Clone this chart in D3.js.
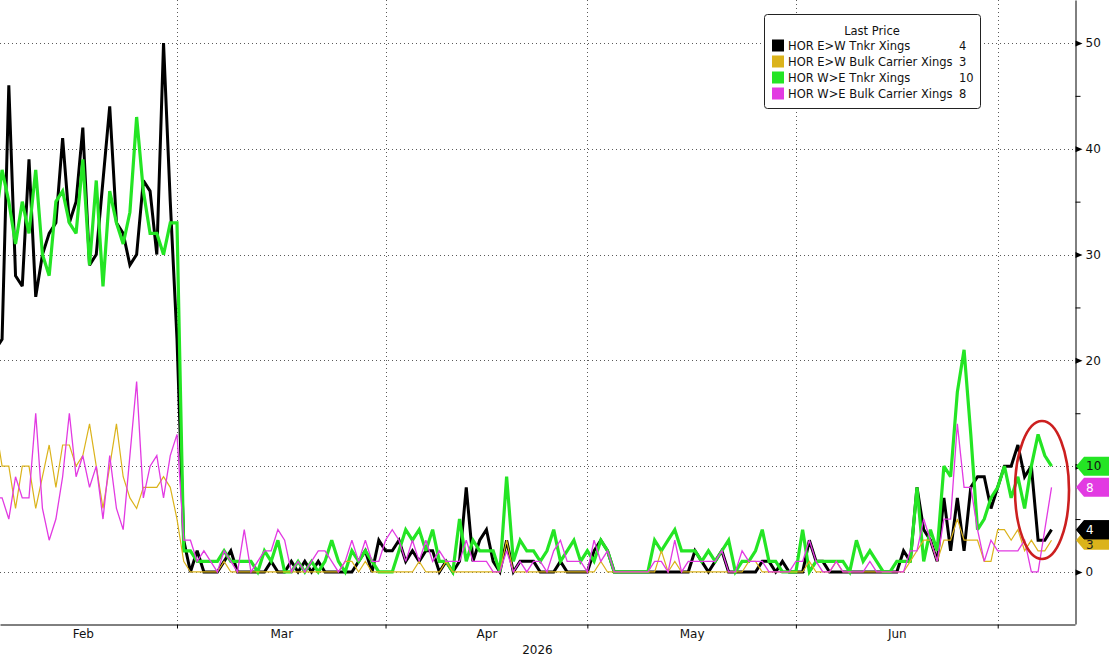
<!DOCTYPE html>
<html>
<head>
<meta charset="utf-8">
<script src="https://cdn.jsdelivr.net/npm/d3@7"></script>
<style>
body { margin: 0; background: #fff; }
svg { display: block; font-family: "DejaVu Sans", sans-serif; }
.grid line { stroke: #5a5a5a; stroke-dasharray: 1,3; shape-rendering: crispEdges; }
</style>
</head>
<body>
<svg width="1109" height="657"></svg>
<script>
// daily crossings, Feb 2 .. Jul 9 2026
var firstDay = "2026-02-02", lastDay = "2026-07-09";

var tnkrEW = [21,
  22,46,28,27,39,26,30,32,33,41,33,35,42,29,30,37,44,33,32,29,30,37,36,30,50,35,
  22,3,0,2,0,0,0,1,2,0,0,0,0,0,1,0,0,1,0,1,0,1,0,0,0,0,0,1,2,0,3,
  2,2,3,1,2,1,2,2,0,1,0,1,8,1,3,4,1,0,3,0,1,1,1,0,0,0,1,0,0,0,
  0,2,3,2,0,0,0,0,0,0,0,0,0,0,0,0,2,1,0,1,2,0,0,0,0,0,1,1,0,1,0,
  0,0,3,1,1,0,0,0,0,0,0,0,0,0,0,0,2,1,8,4,3,1,7,2,7,2,8,9,9,6,
  8,10,10,12,9,10,3,3,4];

var bulkEW = [14,
  10,10,6,10,10,6,9,12,8,12,12,10,11,14,10,6,10,14,9,7,6,8,8,8,9,8,
  5,1,0,0,0,0,0,1,0,0,0,0,0,0,0,0,0,0,0,0,0,0,0,0,0,1,1,0,1,0,0,
  0,0,0,0,0,1,0,0,0,1,0,0,0,0,0,0,0,0,3,0,0,0,0,0,0,0,0,0,0,0,
  0,0,1,0,0,0,0,0,0,0,0,2,0,1,0,0,0,0,0,0,0,0,0,0,1,1,0,0,0,0,0,
  0,0,1,0,0,0,1,0,0,0,0,0,0,0,0,0,0,1,2,3,3,1,3,3,5,3,3,3,1,1,
  4,4,3,4,2,3,2,2,3];

var tnkrWE = [33,
  38,35,31,35,32,38,30,28,35,36,33,32,39,29,37,27,36,33,31,34,43,36,32,32,30,33,
  33,2,2,1,1,1,1,2,1,1,1,1,0,2,1,3,0,0,1,0,1,0,1,3,1,0,2,1,2,1,0,
  0,0,2,4,3,4,2,4,1,1,0,5,1,3,2,2,2,0,9,1,3,2,2,1,2,4,1,2,3,1,
  2,1,3,2,0,0,0,0,0,0,3,2,3,4,2,2,2,1,2,1,2,3,0,1,1,2,4,1,1,0,0,
  0,4,0,1,1,1,1,1,0,3,1,2,1,0,0,1,1,1,8,1,4,2,10,9,17,21,13,4,5,7,
  8,10,7,9,6,10,13,11,10];

var bulkWE = [7,
  7,5,9,7,7,15,6,3,5,9,15,9,11,8,10,5,11,6,4,11,18,7,10,11,7,11,
  13,3,3,1,2,1,0,2,1,0,4,0,1,2,2,4,3,0,1,0,1,2,2,1,0,1,3,1,3,1,1,
  3,4,3,1,3,1,3,1,2,1,1,1,3,1,1,1,0,0,2,0,1,0,1,1,0,2,3,1,1,1,
  0,3,1,2,0,0,0,0,0,0,1,1,0,3,0,1,1,1,1,1,2,0,0,2,1,1,1,0,0,0,0,
  1,1,3,1,0,0,1,0,0,0,0,1,0,0,0,0,0,2,2,5,3,1,5,5,14,8,8,4,1,3,
  2,2,2,2,3,0,0,4,8];

var seriesNames = ["HOR E>W Tnkr Xings", "HOR E>W Bulk Carrier Xings", "HOR W>E Tnkr Xings", "HOR W>E Bulk Carrier Xings"];
var seriesColors = ["#000000", "#dbb31b", "#24e524", "#e23ae2"];
var yTicks = [0, 10, 20, 30, 40, 50];
var yMinor = [5, 15, 25, 35, 45];
var monthLabels = ["Feb", "Mar", "Apr", "May", "Jun"];
var yearLabel = "2026";

var parse = d3.utcParse("%Y-%m-%d");
var dates = d3.utcDay.range(parse(firstDay), d3.utcDay.offset(parse(lastDay), 1));
var values = [tnkrEW, bulkEW, tnkrWE, bulkWE];

var svg = d3.select("svg"),
    plotW = 1075, plotH = 624;

var mar1 = Date.UTC(2026, 2, 1), day = 864e5;
var x = d3.scaleUtc()
    .domain([new Date(mar1 - 26.31 * day), new Date(mar1 + 133.49 * day)])
    .range([0, plotW]);
var y = d3.scaleLinear()
    .domain([-4.92, 54.06])
    .range([plotH, 0]);

var monthStarts = d3.utcMonth.range(new Date(Date.UTC(2026, 2, 1)), new Date(Date.UTC(2026, 6, 2)));
var monthMids = monthLabels.map(function(m, i) {
  var s = new Date(Date.UTC(2026, 1 + i, 1)), e = new Date(Date.UTC(2026, 2 + i, 1));
  return new Date((+s + +e) / 2);
});

svg.append("defs").append("clipPath").attr("id", "plot")
  .append("rect").attr("width", plotW).attr("height", plotH);

// grid
var grid = svg.append("g").attr("class", "grid");
grid.selectAll(".h").data(yTicks).enter().append("line")
    .attr("x1", 0).attr("x2", plotW)
    .attr("y1", d => Math.round(y(d)) + 0.5).attr("y2", d => Math.round(y(d)) + 0.5);
grid.selectAll(".v").data(monthStarts).enter().append("line")
    .attr("y1", 0).attr("y2", plotH)
    .attr("x1", d => Math.round(x(d)) + 0.5).attr("x2", d => Math.round(x(d)) + 0.5);

// lines (thick first, thin on top)
var line = d3.line()
    .x(function(d, i) { return x(dates[i]); })
    .y(function(d) { return y(d); });

var lines = svg.append("g").attr("clip-path", "url(#plot)");
var widths = [3, 1.2, 3.2, 1.3];
[0, 2, 1, 3].forEach(function(k) {
  lines.append("path")
      .datum(values[k])
      .attr("fill", "none")
      .attr("stroke", seriesColors[k])
      .attr("stroke-width", widths[k])
      .attr("stroke-linejoin", "miter")
      .attr("stroke-miterlimit", 3)
      .attr("d", line);
});

// x axis
var xAxis = svg.append("g")
    .attr("transform", "translate(0," + (plotH + 0.5) + ")")
    .call(d3.axisBottom(x).tickValues(monthStarts).tickSize(4).tickSizeOuter(0).tickFormat(""));
xAxis.select(".domain").attr("stroke", "#000");

svg.append("g")
    .attr("transform", "translate(0," + plotH + ")")
    .call(d3.axisBottom(x).tickValues(monthMids).tickSize(0).tickPadding(5)
      .tickFormat(function(d, i) { return monthLabels[i]; }))
    .call(g => g.select(".domain").remove())
    .selectAll("text").attr("font-size", 12).attr("font-family", "DejaVu Sans").attr("fill", "#111");

svg.append("text")
    .attr("x", plotW / 2).attr("y", 654)
    .attr("text-anchor", "middle")
    .attr("font-size", 12).attr("fill", "#111")
    .text(yearLabel);

// y axis on the right
var yAxis = svg.append("g")
    .attr("transform", "translate(" + (plotW + 0.5) + ",0)")
    .call(d3.axisRight(y).tickValues(yTicks).tickSize(0).tickSizeOuter(0).tickPadding(10));
yAxis.select(".domain").attr("stroke", "#000");
yAxis.selectAll("text").attr("font-size", 12).attr("font-family", "DejaVu Sans").attr("fill", "#111");
yAxis.selectAll(".tick").append("path")
    .attr("d", "M0,-3L7,0L0,3Z").attr("fill", "#000");

svg.append("g")
    .attr("transform", "translate(" + (plotW + 0.5) + ",0)")
    .call(d3.axisRight(y).tickValues(yMinor).tickSize(5).tickSizeOuter(0).tickFormat(""))
    .call(g => g.select(".domain").remove());

// last value tags (gold sits under the black one, its number peeks out below)
var lastVals = values.map(v => v[v.length - 1]);
var tagText = ["#fff", "#222", "#111", "#fff"];
var tagShift = [0, 4, 0, 0];
[1, 0, 3, 2].forEach(function(k) {
  var cy = y(lastVals[k]);
  var g = svg.append("g").attr("transform", "translate(" + (plotW + 1) + "," + cy + ")");
  g.append("path")
      .attr("d", "M0,0L8,-9.5L40,-9.5L40,9.5L8,9.5Z")
      .attr("fill", seriesColors[k]);
  g.append("text")
      .attr("x", 10).attr("y", tagShift[k]).attr("dy", "0.36em")
      .attr("font-size", 12)
      .attr("fill", tagText[k])
      .text(lastVals[k]);
});
// black tag redrawn over the gold number
(function() {
  var cy = y(lastVals[0]);
  var g = svg.append("g").attr("transform", "translate(" + (plotW + 1) + "," + cy + ")");
  g.append("path").attr("d", "M0,0L8,-9.5L40,-9.5L40,9.5L8,9.5Z").attr("fill", seriesColors[0]);
  g.append("text").attr("x", 10).attr("dy", "0.36em").attr("font-size", 12)
      .attr("fill", "#fff").text(lastVals[0]);
})();

// annotation ellipse
svg.append("ellipse")
    .attr("cx", x(new Date(Date.UTC(2026, 6, 7, 14))))
    .attr("cy", y(7.75))
    .attr("rx", 27).attr("ry", 69)
    .attr("fill", "none")
    .attr("stroke", "#cc1f1f")
    .attr("stroke-width", 2.6);

// legend
var lg = svg.append("g").attr("transform", "translate(764,14)");
lg.append("rect")
    .attr("x", 0.5).attr("y", 0.5).attr("width", 216).attr("height", 94).attr("rx", 3)
    .attr("fill", "#fff").attr("stroke", "#222");
lg.append("text")
    .attr("x", 108).attr("y", 21)
    .attr("text-anchor", "middle").attr("font-size", 11.5).attr("fill", "#111")
    .text("Last Price");
var rows = lg.selectAll(".row").data(seriesNames).enter().append("g")
    .attr("transform", (d, i) => "translate(0," + (31.5 + i * 16) + ")");
rows.append("rect")
    .attr("x", 8).attr("y", -6).attr("width", 12).attr("height", 12)
    .attr("fill", (d, i) => seriesColors[i]);
rows.append("text")
    .attr("x", 24).attr("dy", "0.36em").attr("font-size", 11.5).attr("fill", "#111")
    .text(d => d);
rows.append("text")
    .attr("x", 195).attr("dy", "0.36em").attr("font-size", 11.5).attr("fill", "#111")
    .text((d, i) => lastVals[i]);
</script>
</body>
</html>
